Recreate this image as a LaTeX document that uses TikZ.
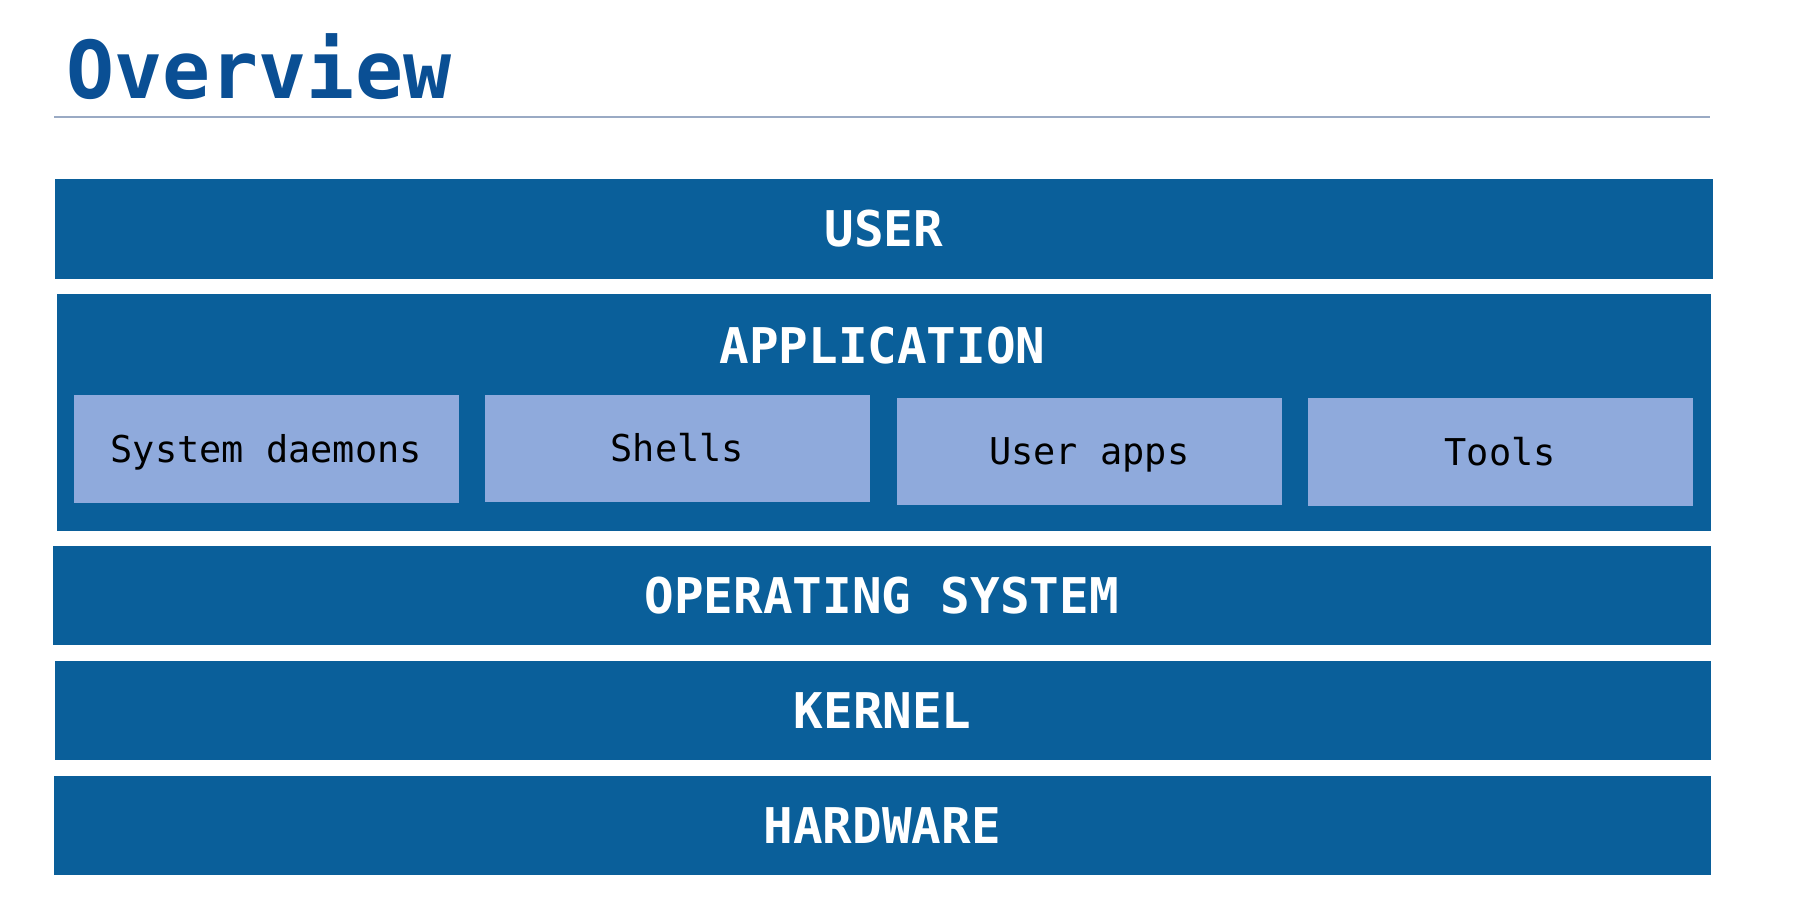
\documentclass[tikz,border=0pt]{standalone}
\usepackage{fontspec}
\newfontfamily\monof{DejaVu Sans Mono}
\definecolor{barblue}{HTML}{0A5F9A}
\definecolor{subblue}{HTML}{8FAADC}
\definecolor{titleblue}{HTML}{0A4F94}
\definecolor{rulecol}{HTML}{9AAAC4}
\begin{document}
\begin{tikzpicture}[x=0.01cm,y=-0.01cm,
  bar/.style={fill=barblue, draw=none, inner sep=0pt, anchor=north west, text=white,
    font=\monof\fontsize{14}{14}\selectfont\bfseries, text height=10.2pt, text depth=0pt},
  subbox/.style={fill=subblue, draw=none, inner sep=0pt, anchor=north west, text=black,
    minimum width=3.85cm, font=\monof\fontsize{10.5}{10.5}\selectfont, text height=7.65pt, text depth=0pt},
  barlabel/.style={text=white, inner sep=0pt, font=\monof\fontsize{14}{14}\selectfont\bfseries, anchor=base}
]
\useasboundingbox[fill=white] (0,0) rectangle (1793,900);
% title
\node[anchor=base west, inner sep=0pt, text=titleblue, font=\monof\fontsize{22.7}{22.7}\selectfont\bfseries] (title) at (66,98) {Overview};
\coordinate (r1) at (54,117);
\coordinate (r2) at (1710,117);
\draw[rulecol, line width=0.015cm] (r1) -- (r2);
% bars
\node[bar, minimum width=16.57cm, minimum height=1.00cm] (user) at (54,178) {USER};
\node[bar, minimum width=16.53cm, minimum height=2.37cm] (app) at (56,293) {};
\node[barlabel] (applabel) at (882.5,363) {APPLICATION};
\node[bar, minimum width=16.57cm, minimum height=0.99cm] (os) at (52,545) {OPERATING SYSTEM};
\node[bar, minimum width=16.55cm, minimum height=0.99cm] (kernel) at (54,660) {KERNEL};
\node[bar, minimum width=16.56cm, minimum height=0.99cm] (hw) at (53,775) {HARDWARE};
% sub boxes
\node[subbox, minimum height=1.08cm] (sysd) at (73,394) {System daemons};
\node[subbox, minimum height=1.07cm] (shells) at (484,394) {Shells};
\node[subbox, minimum height=1.07cm] (uapps) at (896,397) {User apps};
\node[subbox, minimum height=1.08cm] (tools) at (1307,397) {Tools};
\end{tikzpicture}
\end{document}
